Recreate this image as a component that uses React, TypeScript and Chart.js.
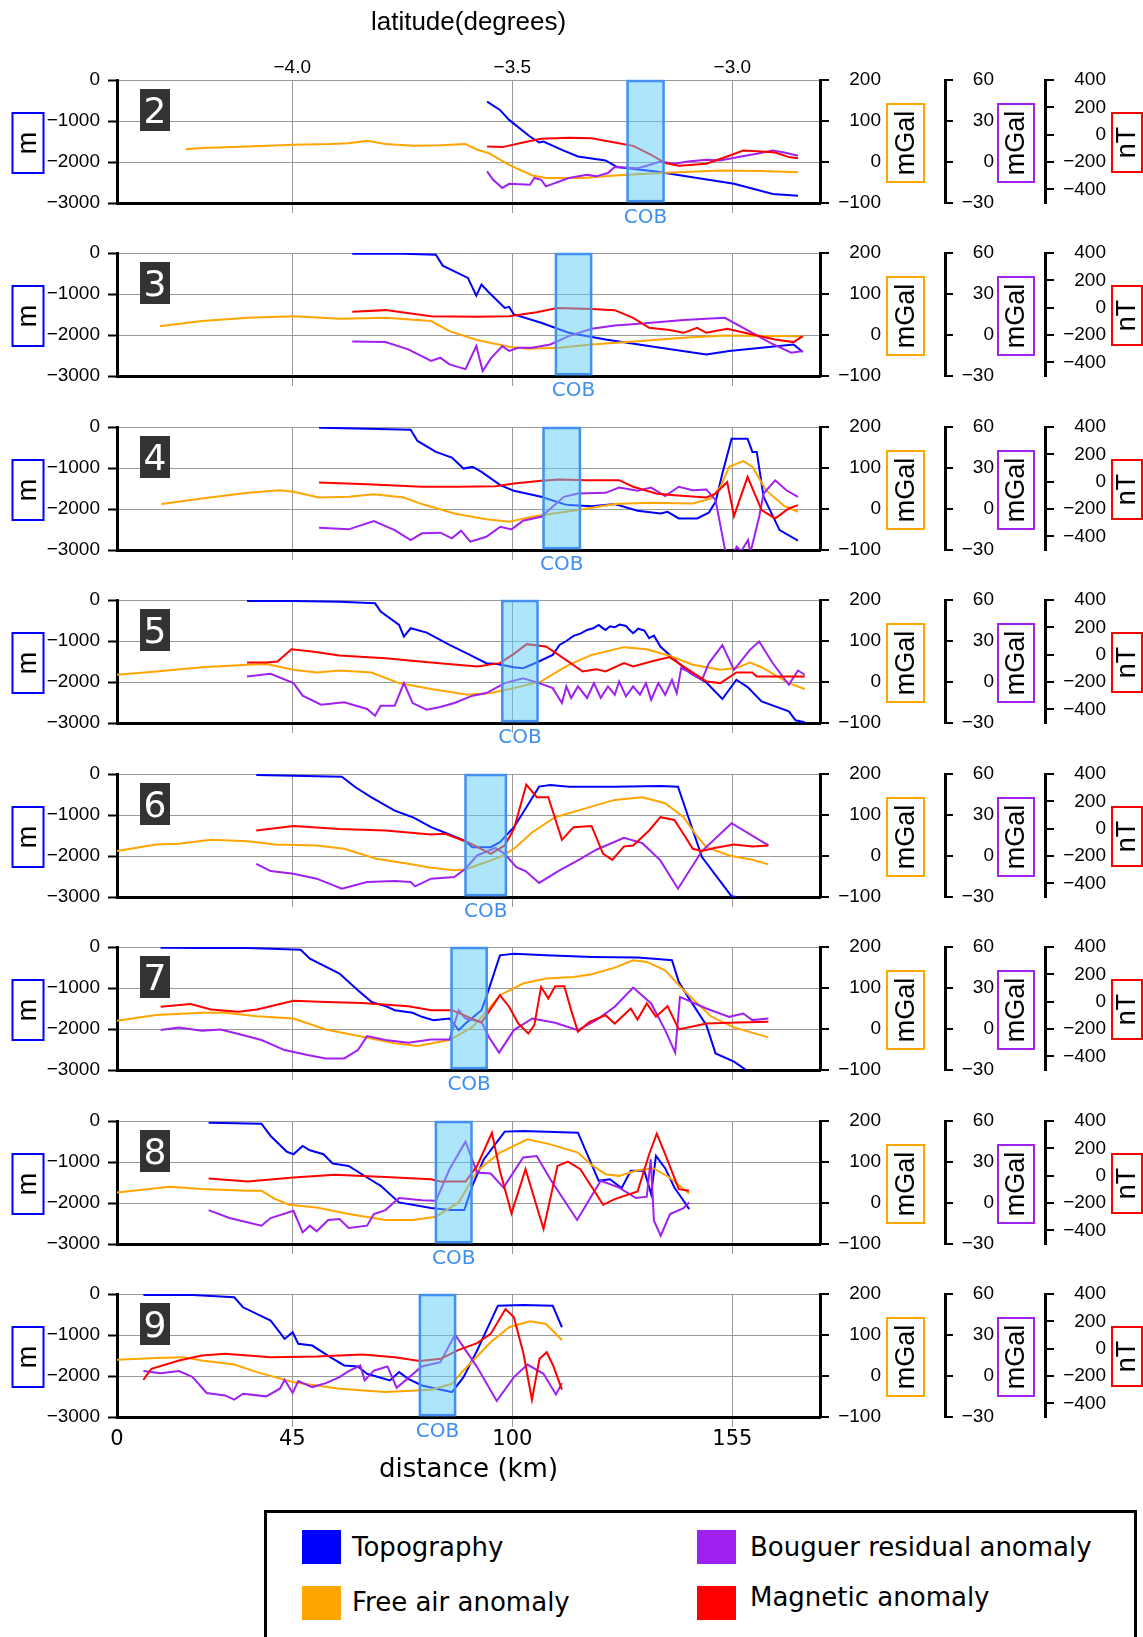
import React, { useEffect, useRef } from 'react';
import { Chart, registerables } from 'chart.js';

Chart.register(...registerables);

// ---------------- data ----------------
const X_MIN = 1.2;
const X_MAX = 176.9;
const panelIds = ['2', '3', '4', '5', '6', '7', '8', '9'];
const distTickValues = [0, 45, 100, 155];
const distTickLabels = ['0', '45', '100', '155'];
const latTickValues = [45, 100, 155];
const latTickLabels = ['\u22124.0', '\u22123.5', '\u22123.0'];
const topoTicks = [0, -1000, -2000, -3000];
const freeAirTicks = [200, 100, 0, -100];
const bouguerTicks = [60, 30, 0, -30];
const magTicks = [400, 200, 0, -200, -400];
const cobStart = [128.8, 110.9, 107.8, 97.5, 88.3, 84.8, 80.9, 76.9];
const cobEnd = [137.8, 119.7, 116.9, 106.3, 98.4, 93.6, 89.8, 85.7];
const legendLabels = ['Topography', 'Bouguer residual anomaly', 'Free air anomaly', 'Magnetic anomaly'];

// panel 2
const topo2 = [[93.7,-527],[96.9,-730],[99.2,-973],[104.4,-1378],[106.7,-1524],[107.8,-1500],[112.4,-1703],[116.4,-1865],[123.3,-1962],[126.2,-2124],[135.9,-2230],[146.2,-2392],[155.4,-2530],[161.1,-2676],[165.1,-2781],[171.4,-2822]];
const fa2 = [[18.4,31],[22.4,34],[33.9,38],[45.3,42],[54.5,44],[59.1,46],[63.7,51.5],[68.3,44],[75.1,39.5],[82,41],[88.3,44],[91.2,30],[94.1,21.6],[99.2,-6.8],[105,-33],[108.4,-39],[117.6,-39],[125.6,-33],[137,-27],[152,-20.5],[162.3,-22],[171.4,-25]];
const bg2 = [[93.7,-6.9],[95.2,-13],[97.5,-19],[99.2,-16],[104.4,-16.6],[105.5,-11.7],[107.2,-13],[108.4,-17.8],[114.1,-11.7],[118.7,-9.3],[121,-10.5],[123.9,-8.1],[125.6,-3.7],[131.3,-4.5],[133.6,-2.8],[137,0.4],[140.5,-1.3],[143.9,0.4],[148.5,1.6],[151.9,1.1],[156.5,3.6],[161.1,6],[165.1,8.4],[168,7],[171.4,4.6]];
const mag2 = [[93.7,-87],[97.5,-91],[102.7,-57],[107.2,-30],[114.1,-23],[119.8,-26],[125.6,-57],[130.2,-82],[134.7,-147],[138.2,-208],[141.6,-228],[148.5,-213],[154.2,-154],[157.7,-116],[162.3,-123],[165.7,-130],[169.1,-164],[171.4,-172]];

// panel 3
const topo3 = [[60,-16],[70.6,-15],[80.9,-41],[82.6,-308],[88.9,-608],[91,-1038],[92.3,-770],[94.1,-957],[98.1,-1338],[99.2,-1314],[100.4,-1500],[107.2,-1703],[114.1,-1946],[123.3,-2108],[137,-2311],[148.5,-2473],[154.2,-2392],[170.3,-2230],[172.6,-2416]];
const fa3 = [[11.9,21.6],[22.4,34],[33.9,42],[45.3,46],[56.8,39.5],[68.3,42],[79.7,34],[84.3,9.5],[91.2,-12],[99.2,-28.6],[103.8,-33.4],[111.8,-31],[119.8,-23],[131.3,-15],[142.8,-6.8],[153.1,-1],[162.3,-2.7],[169.1,-2.7],[172.6,-4.3]];
const bg3 = [[60,-4.7],[68.3,-5.2],[74,-10.5],[79.7,-19],[82,-16.6],[84.3,-21.5],[88.3,-25],[91,-8.1],[92.6,-26.3],[94.6,-17.3],[97.5,-8.1],[99.2,-11.7],[101.5,-9.3],[104.9,-9.3],[109.5,-6.9],[114.1,-0.8],[119.8,4.6],[125.6,7],[132.5,8.4],[142.8,10.9],[148.5,11.8],[153.1,12.6],[160,1.6],[164.5,-5.7],[169.7,-13],[172.6,-11.7]];
const mag3 = [[60,-30],[68.3,-18],[79.7,-62],[91.2,-67],[99.2,-62],[106.1,-33],[111.2,-2],[119.8,-9],[125.6,-18],[130.2,-74],[134.2,-147],[139.3,-164],[142.8,-184],[146.2,-147],[148.5,-184],[153.7,-154],[160,-196],[165.7,-233],[170.3,-252],[172.6,-208]];

// panel 4
const topo4 = [[51.7,-16],[63.7,-41],[74.6,-65],[76.3,-341],[80.9,-608],[84.9,-746],[87.8,-1014],[90.1,-973],[92.3,-1095],[97,-1419],[100.4,-1557],[107.2,-1703],[112.9,-1881],[114.1,-1905],[119.8,-1930],[125.6,-1881],[131.3,-2043],[137,-2108],[138.8,-2068],[141.6,-2230],[146.2,-2230],[149.1,-2092],[150.8,-1824],[152.5,-1135],[154.8,-284],[158.8,-284],[160,-608],[161.1,-608],[162.8,-1703],[166.8,-2514],[171.4,-2773]];
const fa4 = [[12.3,12],[22.4,25.7],[33.9,39.5],[41.9,45.9],[45.3,42],[51.7,28],[59.1,29.7],[65.4,36],[72.9,28],[77.4,12],[85.5,-10.8],[93.5,-25],[99.2,-31],[105,-19],[109.5,-12.4],[116.4,-2.7],[125.6,12],[134.7,15],[145.1,13.5],[149.7,25.7],[152,54],[154.2,103],[157.7,117],[160,103],[163.4,46],[168,7],[171.4,-6.8]];
const bg4 = [[51.7,-13.7],[59.1,-14.9],[65.4,-8.8],[70.6,-15.4],[74.6,-22.7],[77.4,-17.8],[82,-17.3],[84.9,-21.5],[87.2,-15.9],[89.5,-23.9],[93.5,-20.3],[97,-13],[99.8,-14.9],[102.7,-8.6],[107.2,-5.7],[112.9,8.9],[116.4,11.3],[123.3,11.8],[126.7,15.7],[131.3,13.3],[134.7,15.7],[138.2,9.4],[141.6,16.3],[145.1,13.7],[148.5,14.3],[150.8,6.5],[153.1,-28.8],[153.7,-32],[155,-33],[156.1,-27.6],[157.2,-31],[158.9,-22.7],[159.5,-32],[161.7,-5.7],[162.8,11.3],[165.7,21],[168.5,13.7],[171.4,8.9]];
const mag4 = [[51.7,-6],[63.7,-18],[77.4,-37],[86.6,-37],[95.8,-33],[100.4,-13],[107.2,6],[111.8,16],[118.7,11],[126.7,11],[130.2,-37],[135.9,-87],[140.5,-99],[148.5,-116],[150.8,-87],[153.7,-2],[155.4,-252],[158.8,35],[162.3,-208],[165.7,-269],[169.1,-196],[171.4,-172]];

// panel 5
const topo5 = [[33.7,-24],[45.3,-24],[56.8,-41],[65.7,-81],[67.1,-284],[71.7,-608],[72.9,-892],[74.6,-689],[78.6,-795],[84.3,-1095],[88.9,-1314],[93.5,-1541],[95.8,-1557],[100.4,-1638],[102.7,-1662],[106.1,-1524],[110.1,-1338],[111.8,-1095],[113.5,-1000],[115.3,-876],[117,-820],[118.7,-730],[120.2,-690],[121.6,-608],[122.5,-680],[123.3,-730],[124.4,-640],[125.6,-665],[126.8,-600],[128.4,-632],[129.2,-720],[130.2,-811],[131.5,-700],[133,-746],[134.2,-932],[135.4,-870],[137,-1135],[141.6,-1541],[144.5,-1784],[148.5,-2011],[152.5,-2416],[156,-1946],[158.8,-2124],[162.3,-2473],[169.1,-2716],[170.8,-2935],[173.1,-2984]];
const fa5 = [[1.2,17.6],[11,25.7],[22.4,36],[33.9,42],[38.5,44],[45.3,29.7],[51.1,23],[56.8,28],[64.8,23],[71.7,-2.7],[79.7,-17],[88.9,-31],[94.6,-27],[100.4,-15],[107.2,1.4],[114.1,42],[119.8,66],[127.9,85],[133.6,80],[139.3,64],[145.1,42],[152,30],[156,34],[159.4,47.6],[162.3,36],[169.1,-2.7],[173.1,-17]];
const bg5 = [[33.7,4],[39.6,6],[45.3,-0.8],[47.6,-10],[52.2,-16.6],[58,-14.9],[63.7,-19.7],[65.7,-24.7],[67.1,-17.3],[70.6,-17.3],[72.9,-0.8],[75.1,-15.4],[78.6,-20.3],[82,-18.3],[85.5,-15.4],[90.1,-10],[93.5,-8.1],[98.1,-0.8],[102.7,2.8],[106.7,-0.8],[110.1,-4.5],[112.4,-15.4],[113.5,-3.2],[114.7,-11.7],[116.4,-3.2],[118.7,-11.7],[120.4,-0.8],[122.1,-11.7],[123.9,-3.2],[125.6,-9.3],[126.7,0.4],[128.4,-10.5],[130.2,-3.2],[131.9,-9.3],[133.4,-0.8],[134.7,-13],[136.5,-0.8],[138.2,-9.3],[139.9,1.6],[141.1,-8.1],[142.2,10.1],[144,7.7],[147.4,1.6],[149.1,13.7],[152.5,27],[155.4,8.9],[159.4,23.5],[161.7,29.6],[165.1,13.7],[169.1,-2],[171.4,8.4],[173.1,5.3]];
const mag5 = [[33.7,-57],[38.5,-57],[41.3,-50],[44.8,40],[49.9,23],[56.8,-6],[68.3,-26],[79.7,-57],[91.2,-87],[96.9,-62],[100.4,6],[103.6,77],[108.4,60],[111.2,6],[117.6,-123],[121,-106],[123.3,-123],[127.9,-62],[130.2,-87],[134.7,-50],[139.3,-18],[142.8,-87],[148.5,-196],[152,-208],[156,-130],[160,-130],[161.1,-160],[173.1,-160]];

// panel 6
const topo6 = [[36,-24],[45.3,-41],[57.4,-65],[60.8,-324],[64.8,-568],[70.6,-892],[75.1,-1054],[79.7,-1297],[84.3,-1476],[88.3,-1638],[90,-1784],[94.6,-1784],[96.9,-1662],[100.4,-1297],[103.8,-770],[106.7,-308],[109.5,-268],[114.1,-308],[125.6,-308],[137,-292],[141.4,-308],[147.4,-2027],[154.8,-2984],[156,-3000]];
const fa6 = [[1.2,12],[11,28],[16.7,29.7],[24.7,39.5],[33.9,36],[40.8,28],[51.1,25.7],[58,17.6],[66,-6.8],[74,-19],[79.7,-28.6],[85.5,-35],[88.3,-33],[92.3,-19],[96.9,-2.7],[100.4,17.6],[105,58],[110.7,94.6],[119.8,120.5],[125.6,136.8],[132.5,143],[138.2,128.6],[142.8,94.6],[146.2,47.6],[148.5,21.6],[154.2,1.4],[160,-9],[164,-20.5]];
const bg6 = [[36,-5.7],[39.6,-11],[45.3,-13],[51.1,-16.6],[57.4,-23.9],[63.7,-19],[70.6,-18.3],[74.6,-19],[75.7,-22.2],[79.7,-16.6],[85.5,-15.4],[88.3,-9.3],[91.2,0.4],[95.8,6],[98.1,1.6],[101,-8.1],[103.3,-11],[106.7,-19.7],[111.8,-10.5],[116.4,-3.2],[121,4.6],[127.9,13.3],[132.5,9.4],[137,-3.2],[141.4,-23.9],[147.4,3.6],[154.8,24],[164,7.7]];
const mag6 = [[36,-13],[45.3,20],[56.8,-2],[68.3,-13],[79.7,-43],[83.2,-37],[88.9,-99],[94.6,-184],[98.1,-123],[100.4,-2],[103.5,322],[106.1,230],[109,230],[112.4,-82],[115.3,11],[119.8,20],[122.7,-184],[125,-228],[127.9,-130],[130.2,-123],[134.2,-13],[137,84],[140.5,64],[142.5,-26],[145.1,-147],[147.4,-164],[150.8,-140],[155.4,-116],[160,-130],[164,-123]];

// panel 7
const topo7 = [[12.1,-16],[22.4,-24],[33.9,-24],[47.1,-65],[49.4,-284],[56.8,-649],[61.4,-1054],[64.8,-1338],[68.8,-1459],[70.6,-1541],[75.1,-1605],[77.4,-1703],[80.3,-1784],[84.3,-1743],[86.6,-2027],[88.3,-1865],[92.3,-1541],[93.5,-1216],[96.9,-203],[100.4,-162],[108.4,-203],[119.8,-243],[131.3,-259],[137,-300],[139.9,-324],[141.6,-851],[143.9,-1216],[148.5,-1905],[150.8,-2595],[155.4,-2797],[158.2,-2984]];
const fa7 = [[1.2,20],[11,34],[22.4,39.5],[28.2,39.5],[36.2,31],[45.3,25.7],[53.4,-1],[62.5,-19],[70.6,-35],[76.3,-41.5],[84.3,-27],[90.1,5],[93.5,42],[96.9,82.4],[102.7,110.8],[108.4,122.9],[115.3,127],[119.8,133.5],[125.6,149.6],[130.2,167.6],[133.6,163.5],[138.2,143],[142.8,94.6],[149.6,31],[155.4,4],[164,-20.5]];
const bg7 = [[12.1,-0.8],[16.7,1.1],[22.4,-1.3],[27.1,-0.3],[31.6,-3.7],[37.3,-8.1],[43.1,-15.4],[48.8,-19],[53.4,-21.5],[58,-21.5],[61.4,-15.4],[63.7,-5.2],[68.3,-8.1],[74,-10],[79.7,-7.6],[84.3,-7.6],[86.6,13.7],[88.3,7.7],[92.3,5.3],[94.1,-5.7],[96.7,-17.3],[100.4,-0.8],[105,7.7],[110.7,4.6],[116.4,-0.8],[121,6.5],[125.6,16.3],[130.2,30.3],[134.7,18.7],[138.2,-0.8],[140.7,-17.3],[141.9,23.5],[148.5,15],[154.2,8.9],[157.7,11.3],[160,6.5],[164,7.7]];
const mag7 = [[12.1,-37],[19.6,-18],[24.7,-57],[31.6,-74],[36.2,-57],[45.3,6],[53.4,-2],[62.5,-9],[74,-33],[79.7,-62],[84.9,-62],[88.9,-111],[92.3,-154],[96.9,47],[99.2,-37],[101.5,-160],[104,-233],[105.5,-172],[107.2,108],[109,23],[110.7,113],[113,113],[114.7,-62],[116.4,-220],[119.3,-147],[123.3,-99],[125.6,-160],[129.6,-50],[131.3,-130],[133.6,-13],[135.9,-111],[138.8,-33],[141.6,-203],[148.5,-160],[154.2,-154],[164,-147]];

// panel 8
const topo8 = [[24.1,-41],[37.3,-65],[39.6,-365],[43.6,-746],[45.3,-811],[47.6,-608],[49.4,-714],[52.8,-811],[55.1,-1038],[59.1,-1095],[63.7,-1378],[67.1,-1581],[71.7,-1986],[79.7,-2124],[84.3,-2173],[88,-2173],[90,-1581],[92.9,-932],[98.1,-259],[102.7,-243],[116.4,-284],[121.6,-1459],[124.4,-1419],[127.3,-1638],[129.6,-1216],[133,-1216],[134.7,-1784],[135.9,-851],[138.2,-1151],[140.5,-1622],[142.8,-1946],[144.2,-2149]];
const fa8 = [[1.2,25.7],[14.4,39.5],[22.4,34],[33.9,29.7],[37.3,29.7],[40.8,9.5],[44.2,-4.3],[51.1,-10.8],[59.1,-27],[68.3,-41.5],[75.1,-41.5],[80.9,-33.4],[86.6,1.4],[91.2,78.4],[96.9,122.9],[103.8,155.4],[109.5,143],[116.4,122.9],[119.8,92.9],[123.3,70.3],[126.7,66.2],[131.3,80],[135.3,84.9],[139.3,62.2],[144.2,23.4]];
const bg8 = [[24.1,-5.2],[29.3,-11],[37.3,-16.6],[39.6,-11],[45.3,-5.7],[47.6,-21.5],[49.4,-16.6],[51.1,-20.7],[54,-12.4],[56.8,-11.7],[59.1,-18.3],[63.7,-16.6],[65.4,-8.1],[68.3,-5.2],[71.7,3.6],[77.4,2.1],[80.9,1.6],[84.3,24.7],[88.3,44.9],[91.2,22.3],[94.6,21.6],[97.8,11.3],[102.7,33.3],[106.1,34.4],[109.5,17.4],[116.2,-12.4],[122.1,16.3],[126.7,11.3],[130.9,3.6],[133.6,4.6],[134.6,32],[135.4,-13],[137.1,-23.9],[139.4,-8.1],[142.8,-3.7],[144.2,0.4]];
const mag8 = [[24.1,-21],[33.9,-43],[45.3,-13],[55.7,6],[68.3,-9],[79.7,-26],[82,-43],[88.3,-43],[91.2,71.5],[94.9,314],[96.9,35],[99.8,-276],[103.3,47],[107.8,-390],[111.3,71.5],[113.9,103],[117,47],[122.7,-213],[125.6,-172],[131.3,-116],[134.2,157],[136.1,307],[138.2,157],[141.6,-99],[144.2,-111]];

// panel 9
const topo9 = [[7.8,-24],[20.1,-24],[30.5,-81],[32.7,-324],[39.6,-649],[43.1,-1095],[45.1,-932],[46.5,-1216],[50,-1257],[54.5,-1541],[58,-1743],[61.4,-1768],[63.7,-1946],[69.4,-2108],[71.7,-1905],[74,-2068],[77.4,-2230],[84.9,-2392],[87.8,-2027],[91.2,-1378],[96.4,-284],[102.7,-268],[110.1,-284],[112.4,-811]];
const fa9 = [[1.2,39.5],[11,44],[17.8,46],[22.4,38],[30.5,28],[36.2,9.5],[45.3,-15],[56.8,-31],[68.3,-39],[79.7,-33.4],[84.9,-19],[87.8,13.5],[94.6,82.4],[99.2,119],[104.4,133.5],[108.4,127],[112.4,88]];
const bg9 = [[7.8,3.6],[12.1,2.1],[16.7,3.6],[20.1,-0.8],[23.6,-12.4],[28.2,-14.2],[30.5,-17.3],[32.7,-13],[38.5,-14.9],[41.9,-9.3],[43.1,-2.7],[45.1,-12.4],[46.5,-3.7],[50,-8.1],[53.4,-5.2],[56.8,-0.8],[59.1,3.6],[62,7.7],[63.1,-3.2],[65.4,4],[68.8,7],[71.1,-8.6],[77.4,7],[82,10.1],[85.7,30.3],[91.2,6.5],[96.1,-18.3],[100.4,-0.8],[103.8,8.4],[107.8,1.6],[110.9,-13.5],[112.4,-5.2]];
const mag9 = [[7.8,-228],[9.8,-147],[16.7,-87],[22.4,-50],[28.2,-37],[39.6,-62],[51.1,-57],[62.5,-43],[70.6,-62],[76.9,-91],[82.1,-74],[86.6,-9],[91.2,40],[94.6,108],[98.3,290],[100.4,230],[102.8,-37],[104.9,-373],[106.8,-74],[108.6,-26],[110.2,-123],[112.4,-300]];

const topoSeries = [topo2, topo3, topo4, topo5, topo6, topo7, topo8, topo9];
const freeAirSeries = [fa2, fa3, fa4, fa5, fa6, fa7, fa8, fa9];
const bouguerSeries = [bg2, bg3, bg4, bg5, bg6, bg7, bg8, bg9];
const magSeries = [mag2, mag3, mag4, mag5, mag6, mag7, mag8, mag9];

// ---------------- styles ----------------
const BLUE = '#0000ff';
const ORANGE = '#ffa500';
const PURPLE = '#a020f0';
const RED = '#ff0000';
const GRID = '#999999';
const COB_FILL = 'rgba(91,203,245,0.5)';
const COB_LINE = '#4390ee';
const COB_TEXT = '#3f8ff0';
const PLOT_H = 123;
const COB_TOP = -25;
const COB_BOTTOM = -2955;
const LS = 'Liberation Sans';
const DV = 'DejaVu Sans';
const legendColors = [BLUE, PURPLE, ORANGE, RED];

const fmt = (v: any) => String(v).replace('-', '\u2212');

function drawUnitBox(ctx: any, text: string, x: number, y: number, w: number, h: number, color: string) {
  ctx.save();
  ctx.strokeStyle = color;
  ctx.lineWidth = 2;
  ctx.strokeRect(x, y, w, h);
  ctx.translate(x + w / 2, y + h / 2);
  ctx.rotate(-Math.PI / 2);
  ctx.fillStyle = '#000';
  ctx.font = `27px "${LS}"`;
  ctx.textAlign = 'center';
  ctx.textBaseline = 'middle';
  ctx.fillText(text, 0, 1);
  ctx.restore();
}

function makeDecor(i: number) {
  return {
    id: 'decor',
    afterDatasetsDraw(chart: any) {
      const { ctx, scales } = chart;
      const x0 = scales.x.getPixelForValue(cobStart[i]);
      const x1 = scales.x.getPixelForValue(cobEnd[i]);
      const y0 = scales.y.getPixelForValue(COB_TOP);
      const y1 = scales.y.getPixelForValue(COB_BOTTOM);
      ctx.save();
      ctx.fillStyle = COB_FILL;
      ctx.fillRect(x0, y0, x1 - x0, y1 - y0);
      ctx.strokeStyle = COB_LINE;
      ctx.lineWidth = 2.5;
      ctx.strokeRect(x0, y0, x1 - x0, y1 - y0);
      ctx.restore();
    },
    afterDraw(chart: any) {
      const { ctx, scales, chartArea: ca } = chart;
      const x0 = scales.x.getPixelForValue(cobStart[i]);
      const x1 = scales.x.getPixelForValue(cobEnd[i]);
      ctx.save();
      ctx.font = `20px "${DV}"`;
      ctx.fillStyle = COB_TEXT;
      ctx.textAlign = 'center';
      ctx.textBaseline = 'alphabetic';
      ctx.fillText('COB', (x0 + x1) / 2, ca.bottom + 20);
      // panel number
      ctx.fillStyle = '#333333';
      ctx.fillRect(ca.left + 23, ca.top + 9, 30, 42);
      ctx.fillStyle = '#ffffff';
      ctx.font = `36px "${DV}"`;
      ctx.fillText(panelIds[i], ca.left + 38, ca.top + 43);
      ctx.restore();
      drawUnitBox(ctx, 'm', 12.5, ca.top + 33, 31, 60, BLUE);
      drawUnitBox(ctx, 'mGal', scales.gapA.left + 6, ca.top + 24, 37, 78, ORANGE);
      drawUnitBox(ctx, 'mGal', scales.gapB.left + 4, ca.top + 24, 36, 78, PURPLE);
      drawUnitBox(ctx, 'nT', scales.yMag.right + 6, ca.top + 33, 30, 59, RED);
    },
  };
}

function rightAxis(min: number, max: number, ticks: number[], width: number, tl: number) {
  return {
    type: 'linear',
    position: 'right',
    min,
    max,
    afterBuildTicks: (s: any) => { s.ticks = ticks.map((v) => ({ value: v })); },
    afterFit: (s: any) => { s.width = width; },
    grid: { drawOnChartArea: false, color: '#000', lineWidth: 2, tickLength: tl, tickColor: '#000', tickWidth: 2 },
    border: { display: true, color: '#000', width: 3 },
    ticks: { crossAlign: 'far', callback: fmt, font: { family: LS, size: 19 }, color: '#000' },
  };
}

function gapAxis(width: number) {
  return {
    type: 'linear',
    axis: 'y',
    position: 'right',
    afterFit: (s: any) => { s.width = width; },
    grid: { display: false, drawTicks: false },
    border: { display: false },
    ticks: { display: false },
  };
}

function Panel({ idx }: { idx: number }) {
  const ref = useRef<HTMLCanvasElement>(null);
  const first = idx === 0;
  const last = idx === panelIds.length - 1;
  const T = Math.floor(80 + 173.5 * idx);
  const padTop = first ? 7 : 40;
  const topH = first ? 73 : 0;
  const xH = last ? 69 : 30;
  const height = padTop + topH + PLOT_H + xH;
  const canvasTop = T - padTop - topH;

  useEffect(() => {
    const mk = (pts: number[][], axis: string, color: string) => ({
      type: 'line',
      data: pts.map(([x, y]) => ({ x, y })),
      yAxisID: axis,
      borderColor: color,
      backgroundColor: color,
      borderWidth: 2,
      pointRadius: 0,
      tension: 0,
      fill: false,
    });
    const scales: any = {
      x: {
        type: 'linear',
        position: 'bottom',
        min: X_MIN,
        max: X_MAX,
        afterBuildTicks: (s: any) => { s.ticks = distTickValues.map((v) => ({ value: Math.max(v, X_MIN) })); },
        afterFit: (s: any) => { s.height = xH; },
        grid: {
          color: (c: any) => (c.index === 0 ? 'rgba(0,0,0,0)' : GRID),
          tickColor: (c: any) => (c.index === 0 ? 'rgba(0,0,0,0)' : GRID),
          lineWidth: 1,
          tickLength: 10,
          drawTicks: true,
        },
        border: { display: true, color: '#000', width: 3 },
        ticks: {
          display: last,
          autoSkip: false,
          maxRotation: 0,
          padding: 0,
          callback: (_v: any, i: number) => distTickLabels[i],
          font: { family: DV, size: 21 },
          color: '#000',
        },
        title: { display: last, text: 'distance (km)', font: { family: DV, size: 26 }, color: '#000', padding: 0 },
      },
    };
    if (first) {
      scales.xTop = {
        type: 'linear',
        position: 'top',
        min: X_MIN,
        max: X_MAX,
        afterBuildTicks: (s: any) => { s.ticks = latTickValues.map((v) => ({ value: v })); },
        afterFit: (s: any) => { s.height = topH; },
        grid: { display: false, drawTicks: false, tickLength: 0 },
        border: { display: false },
        ticks: {
          autoSkip: false,
          maxRotation: 0,
          padding: 1,
          callback: (_v: any, i: number) => latTickLabels[i],
          font: { family: LS, size: 19 },
          color: '#000',
        },
        title: { display: true, text: 'latitude(degrees)', font: { family: LS, size: 26 }, color: '#000', padding: 0 },
      };
    }
    scales.y = {
      type: 'linear',
      position: 'left',
      min: -3000,
      max: 0,
      afterBuildTicks: (s: any) => { s.ticks = topoTicks.map((v) => ({ value: v })); },
      afterFit: (s: any) => { s.width = 117; },
      grid: {
        color: (c: any) => (c.tick && c.tick.value === -3000 ? 'rgba(0,0,0,0)' : GRID),
        lineWidth: 1,
        tickLength: 9,
        tickColor: '#000',
        tickWidth: 2,
      },
      border: { display: true, color: '#000', width: 3 },
      ticks: { callback: fmt, font: { family: LS, size: 19 }, color: '#000', padding: 8 },
    };
    scales.yFA = rightAxis(-100, 200, freeAirTicks, 61, 9);
    scales.gapA = gapAxis(64);
    scales.yBG = rightAxis(-30, 60, bouguerTicks, 49, 8);
    scales.gapB = gapAxis(51);
    scales.yMag = rightAxis(-500, 400, magTicks, 61, 9);

    const chart = new Chart(ref.current as HTMLCanvasElement, {
      type: 'line',
      data: {
        datasets: [
          mk(magSeries[idx], 'yMag', RED),
          mk(bouguerSeries[idx], 'yBG', PURPLE),
          mk(freeAirSeries[idx], 'yFA', ORANGE),
          mk(topoSeries[idx], 'y', BLUE),
        ] as any,
      },
      options: {
        responsive: false,
        animation: false,
        events: [],
        devicePixelRatio: 1,
        layout: { padding: { top: padTop, left: 0, right: 37, bottom: 0 } },
        plugins: { legend: { display: false }, tooltip: { enabled: false }, title: { display: false } },
        scales,
      } as any,
      plugins: [makeDecor(idx) as any],
    });
    return () => chart.destroy();
  }, []);

  return (
    <canvas
      ref={ref}
      width={1143}
      height={height}
      style={{ position: 'absolute', left: 0, top: canvasTop, width: 1143, height }}
    />
  );
}

function Legend() {
  const pos = [
    { sq: [35, 17], tx: [85, 34] },
    { sq: [430, 17], tx: [483, 34] },
    { sq: [35, 73], tx: [85, 89] },
    { sq: [430, 73], tx: [483, 84] },
  ];
  return (
    <div
      style={{
        position: 'absolute',
        left: 264,
        top: 1510,
        width: 873,
        height: 150,
        border: '3px solid #000',
        boxSizing: 'border-box',
        background: '#fff',
        fontFamily: DV,
        fontSize: 26,
        color: '#000',
      }}
    >
      {legendLabels.map((label, k) => (
        <React.Fragment key={label}>
          <div
            style={{
              position: 'absolute',
              left: pos[k].sq[0],
              top: pos[k].sq[1],
              width: 39,
              height: 34,
              background: legendColors[k],
            }}
          />
          <div
            style={{
              position: 'absolute',
              left: pos[k].tx[0],
              top: pos[k].tx[1] - 16,
              lineHeight: '32px',
              whiteSpace: 'nowrap',
            }}
          >
            {label}
          </div>
        </React.Fragment>
      ))}
    </div>
  );
}

export default function App() {
  return (
    <div
      style={{
        position: 'absolute',
        left: 0,
        top: 0,
        width: 1143,
        height: 1637,
        background: '#fff',
        overflow: 'hidden',
      }}
    >
      {panelIds.map((_, i) => (
        <Panel key={i} idx={i} />
      ))}
      <Legend />
    </div>
  );
}
